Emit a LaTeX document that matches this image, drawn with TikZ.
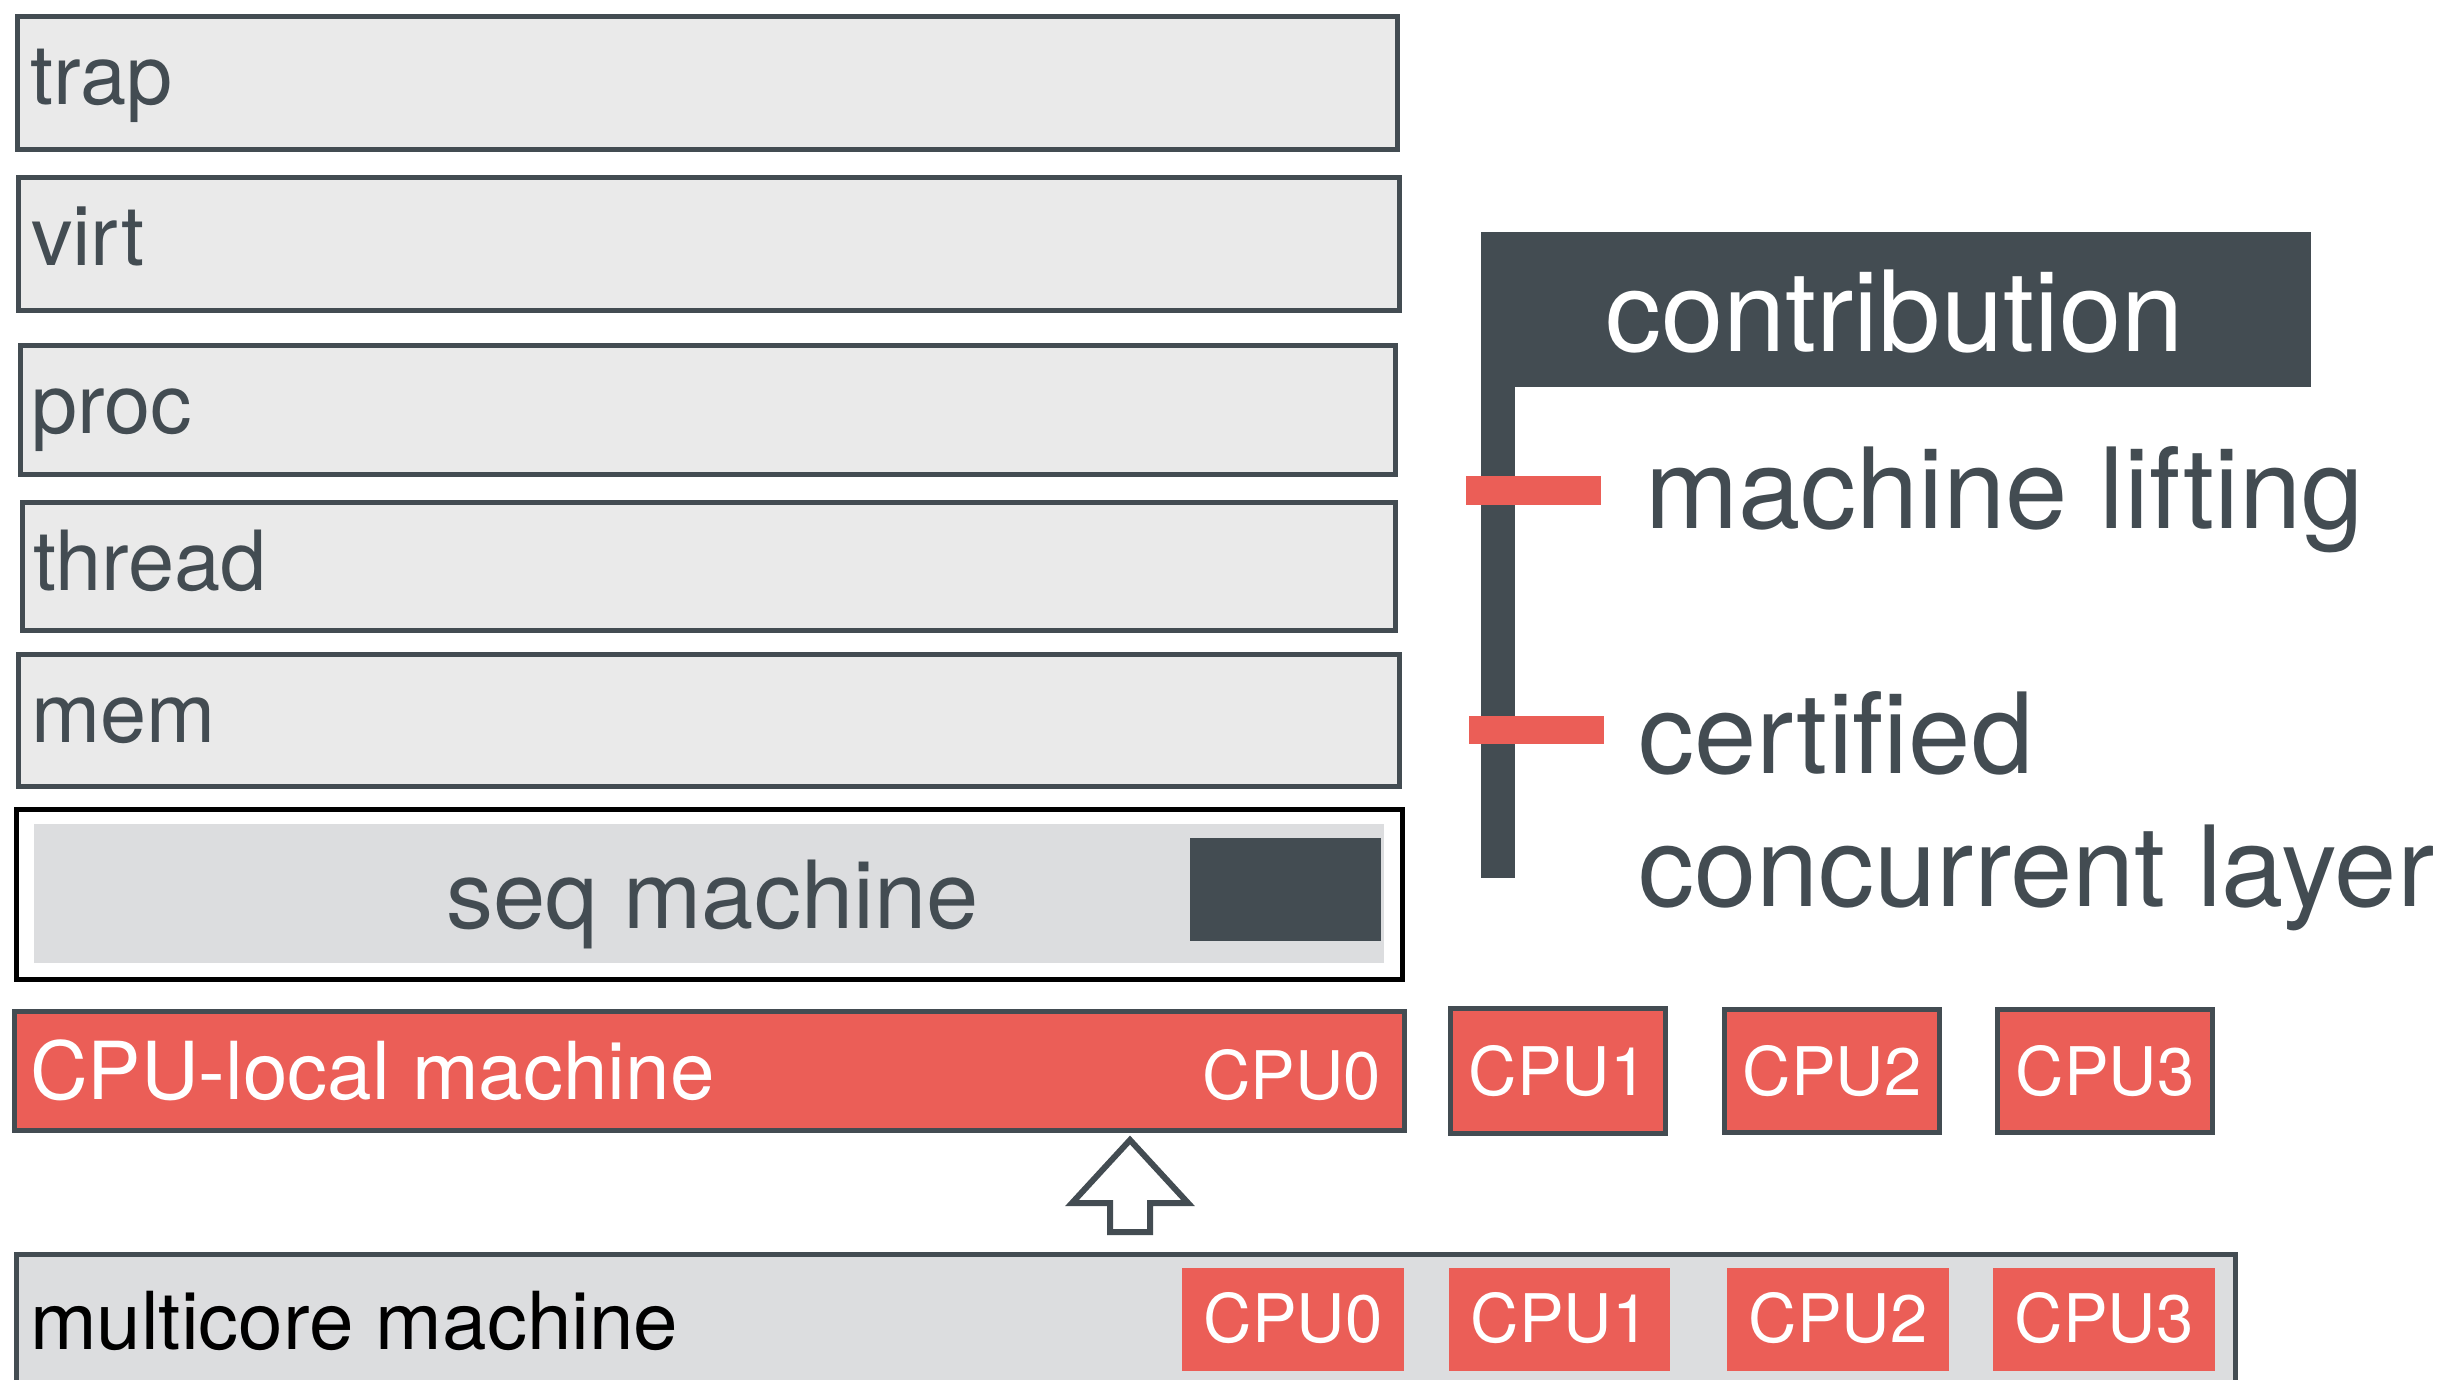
\documentclass[tikz,border=0pt]{standalone}
\usepackage{fontspec}
\setmainfont{TeX Gyre Heros}
\definecolor{slate}{HTML}{434C52}
\definecolor{coral}{HTML}{EB5E57}
\definecolor{paper}{HTML}{EAEAEA}
\definecolor{mist}{HTML}{DCDDDF}
\newcommand{\fs}[1]{\fontsize{#1}{#1}\selectfont}
\begin{document}
\begin{tikzpicture}[x=1pt,y=-1pt,
  every node/.style={inner sep=0pt, outer sep=0pt},
  layer/.style={draw=slate, line width=5pt, fill=paper},
  layertext/.style={anchor=base west, text=slate, font=\fs{83}},
  cpubox/.style={fill=coral, draw=slate, line width=5pt},
  cpuchip/.style={fill=coral},
  cputext/.style={text=white, font=\fs{67}},
  bullet/.style={fill=coral},
  bigtext/.style={anchor=base west, text=slate, font=\fs{112}}]
\useasboundingbox (0,0) rectangle (2457,1379);
\clip (0,0) rectangle (2457,1379);

% stacked layers (stroke centred on the path, so paths sit 2.5 inside)
\path[layer] (17.5,16.5) rectangle (1397.5,149.5);
\path[layer] (18.5,177.5) rectangle (1399.5,310.5);
\path[layer] (20.5,345.5) rectangle (1395.5,474.5);
\path[layer] (22.5,502.5) rectangle (1395.5,630.5);
\path[layer] (18.5,654.5) rectangle (1399.5,786.5);
\node[layertext] (trap) at (30,104) {trap};
\node[layertext] (virt) at (31,265) {virt};
\node[layertext] (proc) at (31,433) {proc};
\node[layertext] (thread) at (33,590) {thread};
\node[layertext] (mem) at (31,742) {mem};

% sequential machine
\path[draw=black, line width=5pt, fill=white] (16.5,809.5) rectangle (1402.5,979.5);
\path[fill=mist] (34,824) rectangle (1384,963);
\path[fill=slate] (1190,838) rectangle (1381,941);
\node[anchor=base west, text=slate, font=\fs{94}] (seq) at (446,928) {seq machine};

% CPU-local machine and the other CPUs
\path[cpubox] (14.5,1011.5) rectangle (1404.5,1130.5);
\node[anchor=base west, text=white, font=\fs{80}] (local) at (30,1099) {CPU-local machine};
\node[anchor=base east, cputext] (lc0) at (1381,1099) {CPU0};
\path[cpubox] (1450.5,1008.5) rectangle (1665.5,1133.5);
\node[cputext] (lc1) at (1558,1071) {CPU1};
\path[cpubox] (1724.5,1009.5) rectangle (1939.5,1132.5);
\node[cputext] (lc2) at (1832,1071) {CPU2};
\path[cpubox] (1997.5,1009.5) rectangle (2212.5,1132.5);
\node[cputext] (lc3) at (2105,1071) {CPU3};

% lifting arrow
\draw[slate, line width=6pt, fill=white, line join=miter]
  (1130,1140) -- (1188,1203) -- (1150,1203) -- (1150,1232)
  -- (1110,1232) -- (1110,1203) -- (1072,1203) -- cycle;

% multicore machine
\path[draw=slate, line width=5pt, fill=mist] (16.5,1254.5) rectangle (2235.5,1400);
\node[anchor=base west, text=black, font=\fs{80}] (multi) at (30,1349) {multicore machine};
\path[cpuchip] (1182,1268) rectangle (1404,1371);
\node[cputext] (mc0) at (1293,1318) {CPU0};
\path[cpuchip] (1449,1268) rectangle (1670,1371);
\node[cputext] (mc1) at (1560,1318) {CPU1};
\path[cpuchip] (1727,1268) rectangle (1949,1371);
\node[cputext] (mc2) at (1838,1318) {CPU2};
\path[cpuchip] (1993,1268) rectangle (2215,1371);
\node[cputext] (mc3) at (2104,1318) {CPU3};

% contribution panel
\path[fill=slate] (1481,232) rectangle (2311,387);
\node[anchor=base west, text=white, font=\fs{112}] (contrib) at (1605,351) {contribution};
\path[fill=slate] (1481,387) rectangle (1515,878);
\path[bullet] (1466,476) rectangle (1601,505);
\path[bullet] (1469,716) rectangle (1604,744);
\node[bigtext] (lift) at (1645,528) {machine lifting};
\node[bigtext] (cert) at (1638,773) {certified};
\node[bigtext] (conc) at (1638,906) {concurrent layer};
\end{tikzpicture}
\end{document}
